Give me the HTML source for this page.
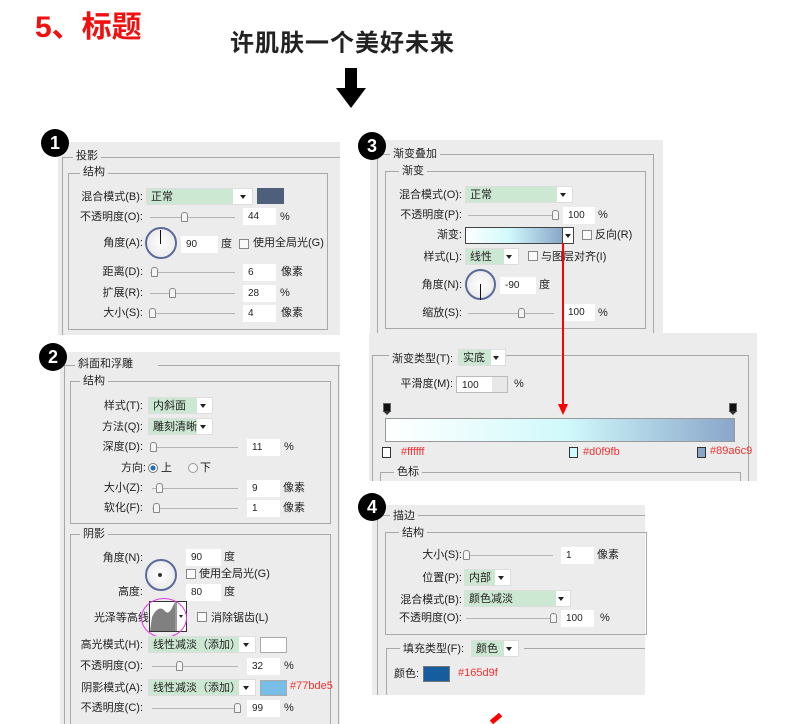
<!DOCTYPE html>
<html><head><meta charset="utf-8"><style>
*{margin:0;padding:0;box-sizing:border-box}
html,body{width:800px;height:724px;overflow:hidden}
body{background:#fff;position:relative;font-family:"Liberation Sans","Noto Sans CJK SC",sans-serif;font-size:11px;color:#222}
div,span{position:absolute}
.g{background:#ececec}
.fs{border:1px solid #a8a8a8}
.t{background:#ececec;padding:0 3px;line-height:14px;white-space:nowrap}
.l{white-space:nowrap;line-height:14px;text-align:right}
.dd{height:17px;background:#fff;border:1px solid #ddd}
.dd i{position:absolute;left:0;top:0;bottom:0;background:#cde8d2}
.dd b{position:absolute;right:6px;top:6px;width:0;height:0;border-left:3.5px solid transparent;border-right:3.5px solid transparent;border-top:4px solid #222}
.dd s{position:absolute;left:4px;top:1px;text-decoration:none;line-height:14px;white-space:nowrap}
.in{height:17px;background:#fff;line-height:17px;padding-left:5px;font-size:10px}
.sl{height:1px;background:#b5b5b5}
.th{width:7px;height:10px;border:1px solid #888;border-radius:3px 3px 1px 1px;background:#f4f4f4}
.cb{width:10px;height:10px;border:1px solid #888;background:#fafafa}
.dial{border:2px solid #5a6a9a;border-radius:50%;background:radial-gradient(#fff,#e4e4e4)}
.badge{width:28px;height:28px;border-radius:50%;background:#000;color:#fff;font-weight:bold;font-size:18px;text-align:center;line-height:28px}
.red{color:#f03030;font-size:11px;white-space:nowrap}
</style></head><body>

<div style="left:35px;top:8px;color:#f01010;font-size:30px;font-weight:bold;line-height:40px;font-family:'Liberation Sans','Noto Sans CJK SC',sans-serif">5、标题</div>
<div style="left:230px;top:26px;font-size:24px;font-weight:bold;line-height:30px;letter-spacing:1px;font-family:'Noto Sans CJK SC',sans-serif">许肌肤一个美好未来</div>
<div style="left:345px;top:68px;width:12px;height:22px;background:#000"></div>
<div style="left:336px;top:88px;width:0;height:0;border-left:15px solid transparent;border-right:15px solid transparent;border-top:20px solid #000"></div>

<!-- Panel 1 -->
<div class="g" style="left:58px;top:142px;width:282px;height:193px"></div>
<div style="left:62px;top:157px;width:278px;height:1px;background:#a8a8a8"></div>
<div style="left:62px;top:157px;width:1px;height:178px;background:#a8a8a8"></div>
<div class="t" style="left:73px;top:149px">投影</div>
<div class="fs" style="left:68px;top:173px;width:260px;height:157px"></div>
<div class="t" style="left:80px;top:165px">结构</div>
<div class="l" style="left:60px;top:190px;width:83px">混合模式(B):</div>
<div class="dd" style="left:146px;top:188px;width:107px"><i style="width:86px"></i><s>正常</s><b></b></div>
<div style="left:257px;top:188px;width:27px;height:16px;background:#4d5f7a"></div>
<div class="l" style="left:60px;top:210px;width:83px">不透明度(O):</div>
<div class="sl" style="left:150px;top:217px;width:85px"></div><div class="th" style="left:181px;top:212px"></div>
<div class="in" style="left:243px;top:208px;width:33px">44</div><div class="l" style="left:280px;top:210px">%</div>
<div class="l" style="left:60px;top:236px;width:83px">角度(A):</div>
<div class="dial" style="left:145px;top:227px;width:32px;height:32px"></div>
<div style="left:160px;top:230px;width:1px;height:14px;background:#111"></div>
<div class="in" style="left:181px;top:236px;width:37px">90</div><div class="l" style="left:221px;top:237px">度</div>
<div class="cb" style="left:239px;top:239px"></div><div class="l" style="left:253px;top:236px">使用全局光(G)</div>
<div class="l" style="left:60px;top:265px;width:83px">距离(D):</div>
<div class="sl" style="left:150px;top:272px;width:85px"></div><div class="th" style="left:151px;top:267px"></div>
<div class="in" style="left:243px;top:264px;width:33px">6</div><div class="l" style="left:281px;top:265px">像素</div>
<div class="l" style="left:60px;top:286px;width:83px">扩展(R):</div>
<div class="sl" style="left:150px;top:293px;width:85px"></div><div class="th" style="left:169px;top:288px"></div>
<div class="in" style="left:243px;top:285px;width:33px">28</div><div class="l" style="left:280px;top:286px">%</div>
<div class="l" style="left:60px;top:306px;width:83px">大小(S):</div>
<div class="sl" style="left:150px;top:313px;width:85px"></div><div class="th" style="left:149px;top:308px"></div>
<div class="in" style="left:243px;top:305px;width:33px">4</div><div class="l" style="left:281px;top:306px">像素</div>
<div class="badge" style="left:41px;top:129px">1</div>

<!-- Panel 2 -->
<div class="g" style="left:60px;top:352px;width:280px;height:372px"></div>
<div style="left:64px;top:365px;width:276px;height:1px;background:#a8a8a8"></div>
<div style="left:64px;top:365px;width:1px;height:359px;background:#a8a8a8"></div>
<div style="left:338px;top:365px;width:1px;height:359px;background:#a8a8a8"></div>
<div class="t" style="left:75px;top:357px;padding-right:25px">斜面和浮雕</div>
<div class="fs" style="left:70px;top:381px;width:261px;height:143px"></div>
<div class="t" style="left:80px;top:374px">结构</div>
<div class="l" style="left:60px;top:399px;width:83px">样式(T):</div>
<div class="dd" style="left:148px;top:397px;width:65px"><i style="width:48px"></i><s>内斜面</s><b></b></div>
<div class="l" style="left:60px;top:420px;width:83px">方法(Q):</div>
<div class="dd" style="left:148px;top:418px;width:65px"><i style="width:48px"></i><s>雕刻清晰</s><b></b></div>
<div class="l" style="left:60px;top:440px;width:83px">深度(D):</div>
<div class="sl" style="left:152px;top:447px;width:86px"></div><div class="th" style="left:150px;top:442px"></div>
<div class="in" style="left:247px;top:439px;width:33px">11</div><div class="l" style="left:284px;top:440px">%</div>
<div class="l" style="left:60px;top:461px;width:86px">方向:</div>
<div style="left:148px;top:463px;width:10px;height:10px;border-radius:50%;border:1px solid #777;background:radial-gradient(#1c6fb8 40%,#fff 50%)"></div><div class="l" style="left:161px;top:461px">上</div>
<div style="left:188px;top:463px;width:10px;height:10px;border-radius:50%;border:1px solid #999;background:#f4f4f4"></div><div class="l" style="left:200px;top:461px">下</div>
<div class="l" style="left:60px;top:481px;width:83px">大小(Z):</div>
<div class="sl" style="left:152px;top:488px;width:86px"></div><div class="th" style="left:156px;top:483px"></div>
<div class="in" style="left:247px;top:480px;width:33px">9</div><div class="l" style="left:283px;top:481px">像素</div>
<div class="l" style="left:60px;top:501px;width:83px">软化(F):</div>
<div class="sl" style="left:152px;top:508px;width:86px"></div><div class="th" style="left:153px;top:503px"></div>
<div class="in" style="left:247px;top:500px;width:33px">1</div><div class="l" style="left:283px;top:501px">像素</div>
<div style="left:70px;top:534px;width:261px;height:190px;border:1px solid #a8a8a8;border-bottom:none"></div>
<div class="t" style="left:80px;top:527px">阴影</div>
<div class="l" style="left:60px;top:551px;width:83px">角度(N):</div>
<div class="in" style="left:186px;top:549px;width:35px">90</div><div class="l" style="left:224px;top:550px">度</div>
<div class="dial" style="left:145px;top:559px;width:32px;height:32px"></div>
<div style="left:158px;top:573px;width:4px;height:4px;background:#333;border-radius:50%"></div>
<div class="cb" style="left:186px;top:569px"></div><div class="l" style="left:199px;top:567px">使用全局光(G)</div>
<div class="l" style="left:60px;top:585px;width:83px">高度:</div>
<div class="in" style="left:186px;top:584px;width:35px">80</div><div class="l" style="left:224px;top:585px">度</div>
<div class="l" style="left:60px;top:611px;width:92px">光泽等高线:</div>
<div style="left:149px;top:601px;width:38px;height:31px;background:#fff;border:1px solid #333"></div>
<svg style="position:absolute;left:150px;top:602px" width="36" height="29"><path d="M0 29 L2 15 Q8 3 14 8 Q18 14 22 6 L25 0 L25 29Z" fill="#808080"/><line x1="26" y1="0" x2="26" y2="29" stroke="#333"/><path d="M29 13 L33 13 L31 16Z" fill="#222"/></svg>
<div style="left:141px;top:598px;width:46px;height:40px;border:1px solid #e040e0;border-radius:50%"></div>
<div class="cb" style="left:197px;top:612px"></div><div class="l" style="left:211px;top:611px">消除锯齿(L)</div>
<div class="l" style="left:60px;top:638px;width:83px">高光模式(H):</div>
<div class="dd" style="left:148px;top:636px;width:108px"><i style="width:90px"></i><s>线性减淡（添加）</s><b></b></div>
<div style="left:260px;top:637px;width:27px;height:16px;background:#fff;border:1px solid #aaa"></div>
<div class="l" style="left:60px;top:659px;width:83px">不透明度(O):</div>
<div class="sl" style="left:152px;top:666px;width:86px"></div><div class="th" style="left:176px;top:661px"></div>
<div class="in" style="left:247px;top:658px;width:33px">32</div><div class="l" style="left:284px;top:659px">%</div>
<div class="l" style="left:60px;top:681px;width:83px">阴影模式(A):</div>
<div class="dd" style="left:148px;top:679px;width:108px"><i style="width:90px"></i><s>线性减淡（添加）</s><b></b></div>
<div style="left:260px;top:680px;width:27px;height:16px;background:#77bde5;border:1px solid #aaa"></div>
<div class="red" style="left:290px;top:680px">#77bde5</div>
<div class="l" style="left:60px;top:701px;width:83px">不透明度(C):</div>
<div class="sl" style="left:152px;top:708px;width:86px"></div><div class="th" style="left:234px;top:703px"></div>
<div class="in" style="left:247px;top:700px;width:33px">99</div><div class="l" style="left:284px;top:701px">%</div>
<div class="badge" style="left:39px;top:343px">2</div>

<!-- Panel 3 top -->
<div class="g" style="left:370px;top:140px;width:293px;height:193px"></div>
<div style="left:377px;top:154px;width:276px;height:1px;background:#a8a8a8"></div>
<div style="left:377px;top:154px;width:1px;height:179px;background:#a8a8a8"></div>
<div style="left:653px;top:154px;width:1px;height:179px;background:#a8a8a8"></div>
<div class="t" style="left:390px;top:147px">渐变叠加</div>
<div class="fs" style="left:385px;top:171px;width:261px;height:158px"></div>
<div class="t" style="left:399px;top:164px">渐变</div>
<div class="l" style="left:370px;top:188px;width:92px">混合模式(O):</div>
<div class="dd" style="left:465px;top:186px;width:108px"><i style="width:91px"></i><s>正常</s><b></b></div>
<div class="l" style="left:370px;top:208px;width:92px">不透明度(P):</div>
<div class="sl" style="left:468px;top:215px;width:86px"></div><div class="th" style="left:552px;top:210px"></div>
<div class="in" style="left:563px;top:207px;width:32px">100</div><div class="l" style="left:598px;top:208px">%</div>
<div class="l" style="left:370px;top:228px;width:92px">渐变:</div>
<div style="left:465px;top:227px;width:109px;height:17px;border:1px solid #444;background:#fff"></div>
<div style="left:466px;top:228px;width:96px;height:15px;background:linear-gradient(90deg,#fff,#d0f9fb 45%,#89a6c9)"></div>
<div style="left:562px;top:228px;width:1px;height:15px;background:#444"></div>
<div style="left:565px;top:234px;width:0;height:0;border-left:3px solid transparent;border-right:3px solid transparent;border-top:4px solid #222"></div>
<div class="cb" style="left:582px;top:230px"></div><div class="l" style="left:595px;top:228px">反向(R)</div>
<div class="l" style="left:370px;top:250px;width:92px">样式(L):</div>
<div class="dd" style="left:465px;top:248px;width:54px"><i style="width:38px"></i><s>线性</s><b></b></div>
<div class="cb" style="left:528px;top:251px"></div><div class="l" style="left:541px;top:250px">与图层对齐(I)</div>
<div class="l" style="left:370px;top:278px;width:92px">角度(N):</div>
<div class="dial" style="left:465px;top:269px;width:31px;height:31px"></div>
<div style="left:480px;top:284px;width:1px;height:16px;background:#111"></div>
<div class="in" style="left:500px;top:277px;width:36px">-90</div><div class="l" style="left:539px;top:278px">度</div>
<div class="l" style="left:370px;top:306px;width:92px">缩放(S):</div>
<div class="sl" style="left:468px;top:313px;width:86px"></div><div class="th" style="left:518px;top:308px"></div>
<div class="in" style="left:563px;top:304px;width:32px">100</div><div class="l" style="left:598px;top:306px">%</div>
<div class="badge" style="left:358px;top:132px">3</div>

<!-- Panel 3 bottom -->
<div class="g" style="left:369px;top:333px;width:388px;height:148px"></div>
<div style="left:372px;top:355px;width:377px;height:1px;background:#a8a8a8"></div>
<div style="left:372px;top:355px;width:1px;height:126px;background:#a8a8a8"></div>
<div style="left:748px;top:355px;width:1px;height:126px;background:#a8a8a8"></div>
<div class="t" style="left:389px;top:350px;padding-right:8px;line-height:18px">渐变类型(T): </div>
<div class="dd" style="left:458px;top:349px;width:48px"><i style="width:32px"></i><s>实底</s><b></b></div>
<div class="l" style="left:370px;top:377px;width:83px">平滑度(M):</div>
<div class="in" style="left:456px;top:376px;width:52px;border:1px solid #bbb">100</div>
<div style="left:492px;top:377px;width:15px;height:15px;background:#e8e8e8"></div>
<div class="l" style="left:514px;top:377px">%</div>
<div style="left:383px;top:403px;width:8px;height:9px;background:#111;border:1px solid #666"></div>
<div style="left:383px;top:411px;width:0;height:0;border-left:4px solid transparent;border-right:4px solid transparent;border-top:4px solid #333"></div>
<div style="left:729px;top:403px;width:8px;height:9px;background:#111;border:1px solid #666"></div>
<div style="left:729px;top:411px;width:0;height:0;border-left:4px solid transparent;border-right:4px solid transparent;border-top:4px solid #333"></div>
<div style="left:385px;top:418px;width:350px;height:24px;background:linear-gradient(90deg,#fff,#d0f9fb 52%,#89a6c9);border:1px solid #999"></div>
<div style="left:382px;top:447px;width:9px;height:11px;border:1px solid #333;background:#fff"></div>
<div style="left:569px;top:447px;width:9px;height:11px;border:1px solid #333;background:#d0f9fb"></div>
<div style="left:697px;top:447px;width:9px;height:11px;border:1px solid #333;background:#89a6c9"></div>
<div class="red" style="left:401px;top:446px">#ffffff</div>
<div class="red" style="left:583px;top:446px">#d0f9fb</div>
<div class="red" style="left:710px;top:445px">#89a6c9</div>
<div style="left:380px;top:472px;width:361px;height:1px;background:#a8a8a8"></div>
<div style="left:380px;top:472px;width:1px;height:9px;background:#a8a8a8"></div>
<div style="left:740px;top:472px;width:1px;height:9px;background:#a8a8a8"></div>
<div class="t" style="left:394px;top:465px">色标</div>

<!-- red arrow -->
<div style="left:562px;top:243px;width:2px;height:164px;background:#ff0000"></div>
<div style="left:558px;top:404px;width:0;height:0;border-left:5px solid transparent;border-right:5px solid transparent;border-top:11px solid #ff0000"></div>

<!-- Panel 4 -->
<div class="g" style="left:372px;top:505px;width:273px;height:190px"></div>
<div style="left:377px;top:515px;width:268px;height:1px;background:#a8a8a8"></div>
<div style="left:377px;top:515px;width:1px;height:180px;background:#a8a8a8"></div>
<div class="t" style="left:390px;top:509px">描边</div>
<div class="fs" style="left:385px;top:532px;width:262px;height:103px"></div>
<div class="t" style="left:399px;top:526px">结构</div>
<div class="l" style="left:370px;top:548px;width:92px">大小(S):</div>
<div class="sl" style="left:465px;top:555px;width:88px"></div><div class="th" style="left:463px;top:550px"></div>
<div class="in" style="left:561px;top:547px;width:33px">1</div><div class="l" style="left:597px;top:548px">像素</div>
<div class="l" style="left:370px;top:571px;width:92px">位置(P):</div>
<div class="dd" style="left:464px;top:569px;width:47px"><i style="width:30px"></i><s>内部</s><b></b></div>
<div class="l" style="left:370px;top:593px;width:92px">混合模式(B):</div>
<div class="dd" style="left:464px;top:590px;width:107px"><i style="width:91px"></i><s>颜色减淡</s><b></b></div>
<div class="l" style="left:370px;top:611px;width:92px">不透明度(O):</div>
<div class="sl" style="left:466px;top:618px;width:86px"></div><div class="th" style="left:550px;top:613px"></div>
<div class="in" style="left:561px;top:610px;width:33px">100</div><div class="l" style="left:600px;top:611px">%</div>
<div style="left:386px;top:648px;width:1px;height:47px;background:#a8a8a8"></div>
<div style="left:386px;top:648px;width:259px;height:1px;background:#a8a8a8"></div>
<div class="t" style="left:400px;top:641px;padding-right:60px;line-height:16px">填充类型(F):</div>
<div class="dd" style="left:471px;top:640px;width:48px"><i style="width:32px"></i><s>颜色</s><b></b></div>
<div class="l" style="left:394px;top:667px">颜色:</div>
<div style="left:423px;top:666px;width:27px;height:16px;background:#165d9f;border:1px solid #777"></div>
<div class="red" style="left:458px;top:667px">#165d9f</div>
<div class="badge" style="left:358px;top:493px">4</div>

<div style="left:490px;top:716px;width:12px;height:5px;background:#ff0000;transform:rotate(-40deg)"></div>
</body></html>
